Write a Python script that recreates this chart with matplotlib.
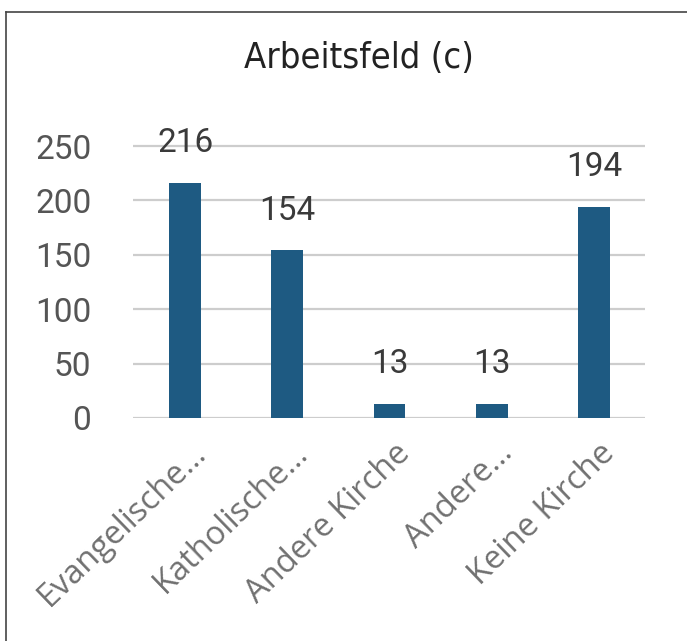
import numpy as np
import matplotlib
matplotlib.use('Agg')
import matplotlib.pyplot as plt
from matplotlib.transforms import ScaledTranslation
from matplotlib.lines import Line2D

categories = ['Evangelische…', 'Katholische…', 'Andere Kirche', 'Andere…', 'Keine Kirche']
counts = [216, 154, 13, 13, 194]
yticks = [0, 50, 100, 150, 200, 250]

bar_color = '#1e5a82'
grid_color = '#cdcdcd'

fig = plt.figure(figsize=(6.87, 6.41), dpi=100)
ax = fig.add_axes([0.1936, 0.3479, 0.7453, 0.4446])

x = np.arange(len(categories))
ax.bar(x, counts, width=0.31, color=bar_color, zorder=3)

for xi, v in zip(x, counts):
	ax.annotate(str(v), (xi, v), xytext=(0, 22), textcoords='offset points',
		ha='center', va='baseline', fontsize=24, family='Roboto', color='#3a3a3a', zorder=4)

ax.set_xlim(-0.51, 4.5)
ax.set_ylim(0, 262)
ax.set_yticks(yticks)
ax.set_yticklabels([str(t) for t in yticks], fontsize=24, family='Roboto', color='#555555')
ax.tick_params(axis='y', length=0, pad=30)
ax.yaxis.grid(True, color=grid_color, linewidth=1.6, zorder=0)
ax.set_axisbelow(True)
for sp in ax.spines.values():
	sp.set_visible(False)

ax.set_xticks(x)
ax.set_xticklabels(categories, rotation=44, ha='right', va='center', rotation_mode='anchor',
	fontsize=23.5, family='Open Sans', color='#707070')
ax.tick_params(axis='x', length=0, pad=22)
for lab in ax.get_xticklabels():
	lab.set_transform(lab.get_transform() + ScaledTranslation(0.16, 0, fig.dpi_scale_trans))

fig.text(359/687, 1-58/641, 'Arbeitsfeld (c)', ha='center', va='center',
	fontsize=26, family='DejaVu Sans', stretch='condensed', color='#222222')

# frame lines (left and top)
fig.add_artist(Line2D([6/687, 6/687], [0, 1-12/641], transform=fig.transFigure, color='#444444', lw=1.2))
fig.add_artist(Line2D([6/687, 1], [1-12/641, 1-12/641], transform=fig.transFigure, color='#444444', lw=1.2))

fig.savefig('out.png', dpi=100)
